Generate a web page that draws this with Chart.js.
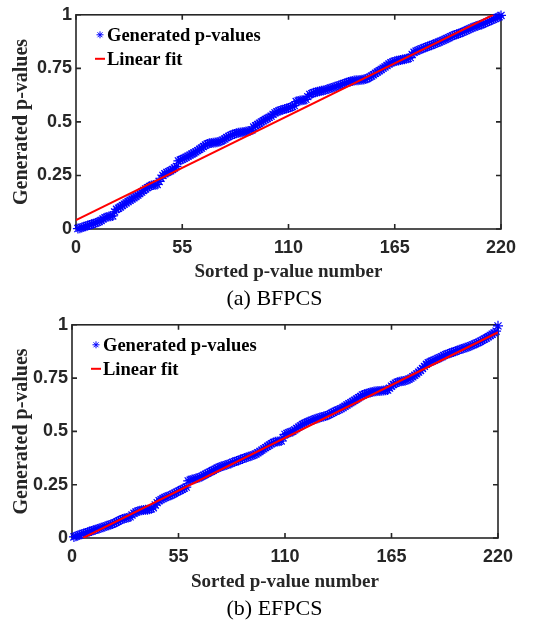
<!DOCTYPE html>
<html>
<head>
<meta charset="utf-8">
<script src="https://cdn.jsdelivr.net/npm/chart.js@4/dist/chart.umd.min.js"></script>
<style>
  body { margin: 0; background: #fff; width: 549px; height: 622px; position: relative; overflow: hidden; }
  .panel { position: absolute; left: 0; width: 549px; height: 290px; }
  .caption { position: absolute; left: 0; width: 549px; text-align: center; line-height: 24px;
             font-family: "Liberation Serif", "Times New Roman", serif; font-size: 22px; color: #000; }
</style>
</head>
<body>
<div class="panel" style="top:0"><canvas id="chartA"></canvas></div>
<div class="caption" style="top:286px">(a) BFPCS</div>
<div class="panel" style="top:310px"><canvas id="chartB"></canvas></div>
<div class="caption" style="top:596px">(b) EFPCS</div>
<script>
// sorted p-values (index = position in array + 1)
var pvalsBFPCS = [
  0.002,0.004,0.007,0.010,0.013,0.016,0.019,0.022,0.025,0.028,
  0.031,0.035,0.040,0.047,0.053,0.056,0.058,0.059,0.061,0.080,
  0.092,0.097,0.103,0.110,0.116,0.122,0.128,0.134,0.140,0.146,
  0.152,0.158,0.165,0.172,0.180,0.187,0.193,0.199,0.203,0.205,
  0.206,0.208,0.222,0.237,0.250,0.258,0.264,0.268,0.272,0.278,
  0.285,0.292,0.318,0.322,0.326,0.330,0.335,0.340,0.345,0.350,
  0.355,0.360,0.366,0.372,0.378,0.385,0.392,0.397,0.400,0.402,
  0.403,0.404,0.405,0.407,0.410,0.415,0.420,0.427,0.432,0.437,
  0.441,0.444,0.447,0.449,0.451,0.452,0.453,0.455,0.456,0.458,
  0.462,0.476,0.482,0.488,0.494,0.500,0.505,0.511,0.516,0.521,
  0.527,0.535,0.542,0.547,0.551,0.554,0.557,0.560,0.562,0.565,
  0.568,0.572,0.576,0.595,0.598,0.600,0.601,0.602,0.605,0.618,
  0.628,0.632,0.636,0.639,0.641,0.643,0.645,0.647,0.649,0.652,
  0.655,0.658,0.661,0.664,0.667,0.670,0.673,0.676,0.679,0.683,
  0.686,0.689,0.691,0.693,0.694,0.695,0.696,0.697,0.698,0.700,
  0.704,0.709,0.714,0.720,0.727,0.733,0.739,0.745,0.751,0.757,
  0.763,0.770,0.776,0.780,0.783,0.785,0.787,0.789,0.791,0.793,
  0.795,0.797,0.800,0.815,0.825,0.830,0.834,0.837,0.841,0.845,
  0.848,0.852,0.855,0.858,0.862,0.866,0.869,0.873,0.877,0.881,
  0.885,0.889,0.893,0.898,0.902,0.906,0.909,0.912,0.915,0.919,
  0.923,0.927,0.931,0.935,0.939,0.943,0.946,0.949,0.952,0.955,
  0.959,0.963,0.967,0.971,0.975,0.979,0.983,0.987,0.991,0.997
];
var pvalsEFPCS = [
  0.005,0.008,0.012,0.015,0.018,0.021,0.024,0.027,0.030,0.033,
  0.036,0.039,0.042,0.045,0.048,0.051,0.054,0.057,0.060,0.063,
  0.066,0.070,0.075,0.080,0.085,0.089,0.092,0.094,0.096,0.099,
  0.108,0.116,0.122,0.126,0.128,0.130,0.131,0.132,0.133,0.135,
  0.137,0.142,0.155,0.166,0.175,0.180,0.185,0.190,0.194,0.197,
  0.200,0.205,0.210,0.215,0.220,0.224,0.229,0.234,0.239,0.268,
  0.271,0.274,0.276,0.279,0.282,0.285,0.289,0.294,0.299,0.304,
  0.309,0.313,0.318,0.323,0.328,0.332,0.335,0.338,0.341,0.344,
  0.347,0.350,0.355,0.358,0.361,0.364,0.368,0.371,0.375,0.378,
  0.381,0.384,0.387,0.390,0.394,0.400,0.406,0.412,0.418,0.424,
  0.430,0.436,0.442,0.448,0.451,0.453,0.454,0.455,0.470,0.486,
  0.490,0.494,0.497,0.500,0.507,0.514,0.520,0.526,0.532,0.537,
  0.541,0.545,0.549,0.553,0.556,0.559,0.562,0.565,0.568,0.570,
  0.572,0.576,0.580,0.585,0.590,0.595,0.599,0.602,0.607,0.612,
  0.618,0.624,0.630,0.635,0.640,0.646,0.652,0.658,0.664,0.671,
  0.674,0.677,0.680,0.683,0.685,0.687,0.688,0.689,0.690,0.691,
  0.692,0.693,0.694,0.703,0.712,0.720,0.726,0.731,0.733,0.735,
  0.736,0.738,0.741,0.745,0.750,0.756,0.763,0.770,0.778,0.786,
  0.795,0.805,0.815,0.822,0.826,0.830,0.834,0.838,0.842,0.846,
  0.850,0.856,0.860,0.863,0.866,0.870,0.873,0.876,0.880,0.883,
  0.886,0.889,0.892,0.895,0.898,0.902,0.906,0.910,0.914,0.918,
  0.923,0.928,0.933,0.938,0.944,0.950,0.956,0.962,0.970,0.995
];
// linear fit end points (x = p-value number, y = p-value)
var fitA_x = [0, 216];
var fitA_y = [0.042, 1.0];
var fitB_x = [5.7, 220];
var fitB_y = [0, 0.965];

var xTicks = [0, 55, 110, 165, 220];
var yTicks = [0, 0.25, 0.5, 0.75, 1];
var yTickLabels = ["0", "0.25", "0.5", "0.75", "1"];

var axisColor = "#262626";
var serif = '"Liberation Serif", "Times New Roman", serif';
var sans = '"Liberation Sans", Arial, sans-serif';

function toPoints(vals) {
  return vals.map(function (v, i) { return { x: i + 1, y: v }; });
}
function toLine(xs, ys) {
  return xs.map(function (v, i) { return { x: v, y: ys[i] }; });
}

function drawStar(ctx, x, y, r) {
  var d = r * Math.SQRT1_2;
  ctx.moveTo(x - r, y); ctx.lineTo(x + r, y);
  ctx.moveTo(x, y - r); ctx.lineTo(x, y + r);
  ctx.moveTo(x - d, y - d); ctx.lineTo(x + d, y + d);
  ctx.moveTo(x - d, y + d); ctx.lineTo(x + d, y - d);
}

// axes box with inward tick marks on all four sides (matlab look)
const boxTicks = {
  id: "boxTicks",
  beforeDatasetsDraw(chart) {
    const { ctx, chartArea: a, scales } = chart;
    ctx.save();
    ctx.strokeStyle = axisColor;
    ctx.lineWidth = 1.6;
    ctx.strokeRect(a.left, a.top, a.right - a.left, a.bottom - a.top);
    ctx.beginPath();
    scales.x.ticks.forEach(function (t) {
      const px = scales.x.getPixelForValue(t.value);
      ctx.moveTo(px, a.bottom); ctx.lineTo(px, a.bottom - 5);
      ctx.moveTo(px, a.top); ctx.lineTo(px, a.top + 5);
    });
    scales.y.ticks.forEach(function (t) {
      const py = scales.y.getPixelForValue(t.value);
      ctx.moveTo(a.left, py); ctx.lineTo(a.left + 5, py);
      ctx.moveTo(a.right, py); ctx.lineTo(a.right - 5, py);
    });
    ctx.stroke();
    ctx.restore();
  }
};

// legend sitting inside the top-left corner of the plot
const insideLegend = {
  id: "insideLegend",
  afterDatasetsDraw(chart) {
    const { ctx, chartArea } = chart;
    ctx.save();
    ctx.font = "bold 18.5px " + serif;
    ctx.textBaseline = "middle";
    chart.data.datasets.forEach(function (ds, i) {
      const y = chartArea.top + 20 + i * 24;
      const mx = chartArea.left + 24;
      ctx.strokeStyle = ds.borderColor;
      ctx.beginPath();
      if (ds.showLine) {
        ctx.lineWidth = 2;
        ctx.moveTo(mx - 5, y); ctx.lineTo(mx + 5, y);
      } else {
        ctx.lineWidth = 1;
        drawStar(ctx, mx, y, 3.5);
      }
      ctx.stroke();
      ctx.fillStyle = "#000";
      ctx.fillText(ds.label, mx + 7, y + 1);
    });
    ctx.restore();
  }
};

function makeChart(id, pvals, fitX, fitY, box) {
  const ctx = document.getElementById(id).getContext("2d");
  return new Chart(ctx, {
    type: "scatter",
    data: {
      datasets: [{
        label: "Generated p-values",
        data: toPoints(pvals),
        showLine: false,
        pointStyle: "star",
        pointRadius: 5,
        pointBorderWidth: 1.2,
        borderColor: "#0000ff",
        backgroundColor: "#0000ff",
        clip: false,
        order: 2
      },
      {
        label: "Linear fit",
        data: toLine(fitX, fitY),
        showLine: true,
        pointRadius: 0,
        borderColor: "#ff0000",
        borderWidth: 2,
        order: 1
      }]
    },
    plugins: [boxTicks, insideLegend],
    options: {
      responsive: true,
      maintainAspectRatio: false,
      animation: false,
      layout: { padding: { top: box.top, right: box.right, left: 0, bottom: 0 } },
      plugins: { legend: { display: false }, tooltip: { enabled: false } },
      scales: {
        x: {
          type: "linear",
          min: 0, max: 220,
          afterBuildTicks: function (scale) { scale.ticks = xTicks.map(function (v) { return { value: v }; }); },
          afterFit: function (scale) { scale.height = box.xh; },
          grid: { display: false, drawTicks: false },
          border: { display: false },
          ticks: {
            padding: 8,
            color: axisColor,
            font: { family: sans, size: 18, weight: "bold" }
          },
          title: {
            display: true,
            text: "Sorted p-value number",
            color: axisColor,
            padding: { top: 0, bottom: 7 },
            font: { family: serif, size: 19, weight: "bold" }
          }
        },
        y: {
          min: 0, max: 1,
          afterBuildTicks: function (scale) { scale.ticks = yTicks.map(function (v) { return { value: v }; }); },
          afterFit: function (scale) { scale.width = box.yw; },
          grid: { display: false, drawTicks: false },
          border: { display: false },
          ticks: {
            padding: 4,
            color: axisColor,
            callback: function (v) { return yTickLabels[yTicks.indexOf(v)]; },
            font: { family: sans, size: 18, weight: "bold" }
          },
          title: {
            display: true,
            text: "Generated p-values",
            color: axisColor,
            padding: { top: 10, bottom: 0 },
            font: { family: serif, size: 20, weight: "bold" }
          }
        }
      }
    }
  });
}

makeChart("chartA", pvalsBFPCS, fitA_x, fitA_y, { top: 13, right: 48, yw: 76, xh: 61 });
makeChart("chartB", pvalsEFPCS, fitB_x, fitB_y, { top: 12, right: 51, yw: 72, xh: 62 });
</script>
</body>
</html>
